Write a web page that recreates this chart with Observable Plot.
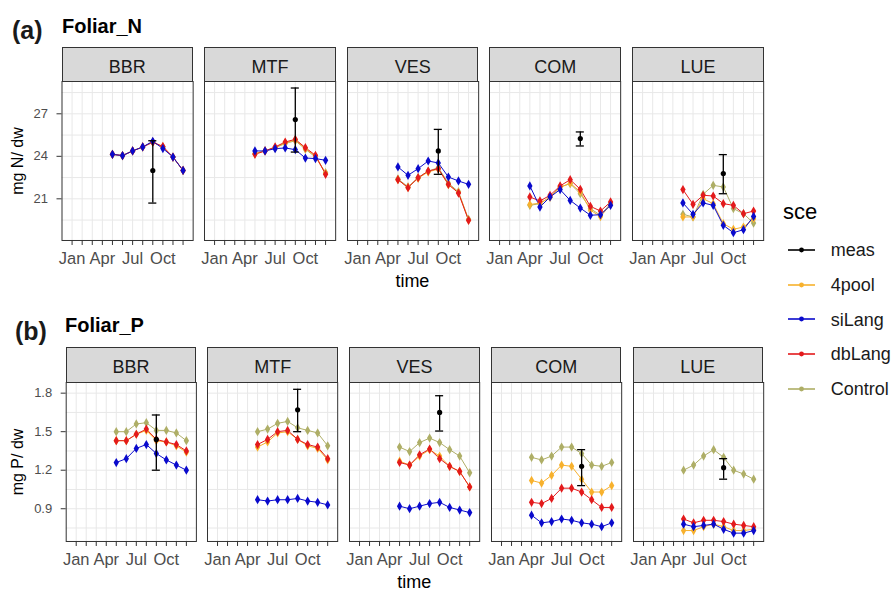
<!DOCTYPE html>
<html><head><meta charset="utf-8">
<script src="https://cdn.jsdelivr.net/npm/d3@7"></script>
<script src="https://cdn.jsdelivr.net/npm/@observablehq/plot@0.6"></script>
<style>
body{margin:0;background:#fff;font-family:"Liberation Sans",Arial,sans-serif;}
#root{position:relative;width:896px;height:593px;overflow:hidden;background:#fff;}
#root svg{position:absolute;}
.strip{position:absolute;background:#d9d9d9;border:1px solid #333;box-sizing:border-box;text-align:center;color:#1a1a1a;font-size:18px;line-height:1;}
.txt{position:absolute;white-space:nowrap;line-height:1;color:#000;}
</style></head>
<body><div id="root"></div>
<script>
// ---------- data ----------
const sites = ["BBR", "MTF", "VES", "COM", "LUE"];
const scenarios = ["meas", "4pool", "siLang", "dbLang", "Control"];
const scenColors = ["#000000", "#F7B12D", "#0A0ACC", "#E31A1C", "#AEAE66"];
const drawOrder = ["Control", "4pool", "dbLang", "siLang"];
const monthTicks = [0,1,2,3,4,5,6,7,8,9,10,11];
const monthTickLabels = ["Jan","","","Apr","","","Jul","","","Oct","",""];
const mayDec = [4,5,6,7,8,9,10,11];
const aprDec = [3,4,5,6,7,8,9,10,11];
const siteMonths = [mayDec, mayDec, mayDec, aprDec, mayDec];
const measMonth = 8;

// Foliar N (mg N / dw)
const N_4pool = [
  [24.14,24.05,24.38,24.66,25.0,24.65,23.95,23.0],
  [24.2,24.38,24.62,24.95,25.15,24.55,24.0,22.8],
  [22.35,21.8,22.45,22.9,23.1,22.0,21.45,19.5],
  [20.6,20.7,21.1,21.8,22.1,21.5,20.2,19.75,20.6],
  [19.72,19.72,21.01,20.66,19.25,18.85,19.01,19.6]];
const N_siLang = [
  [24.14,24.05,24.38,24.66,25.06,24.55,23.95,23.0],
  [24.38,24.38,24.54,24.59,24.47,23.88,23.84,23.72],
  [23.25,22.66,23.13,23.67,23.53,22.54,22.26,22.02],
  [21.91,20.42,21.13,21.65,20.89,20.35,19.84,19.88,20.54],
  [20.71,19.91,20.71,20.54,19.13,18.61,18.82,19.76]];
const N_dbLang = [
  [24.14,24.05,24.38,24.66,25.0,24.7,23.95,23.0],
  [24.14,24.38,24.66,25.01,25.2,24.61,24.07,22.73],
  [22.35,21.79,22.49,22.96,23.13,22.02,21.41,19.48],
  [21.13,20.85,21.25,21.91,22.35,21.67,20.47,20.14,20.78],
  [21.65,20.61,21.25,21.2,20.66,20.54,19.95,20.14]];
const N_Control = [
  [24.14,24.05,24.38,24.66,25.0,24.65,23.95,23.0],
  [24.2,24.38,24.6,24.9,25.1,24.5,23.95,22.85],
  [22.4,21.85,22.5,22.95,23.2,22.1,21.5,19.55],
  [20.54,20.66,21.13,21.84,22.07,21.36,20.31,19.84,20.66],
  [19.91,19.72,21.32,21.95,21.84,20.31,19.95,19.29]];
const N_meas = [23.0, 26.59, 24.38, 25.25, 22.78];
const N_measLo = [20.7, 24.3, 22.73, 24.73, 21.36];
const N_measHi = [25.1, 28.82, 25.9, 25.72, 24.12];

// Foliar P (mg P / dw)
const P_4pool = [
  [1.43,1.43,1.48,1.51,1.43,1.42,1.39,1.34],
  [1.38,1.42,1.49,1.50,1.44,1.39,1.37,1.28],
  [1.27,1.24,1.31,1.36,1.31,1.23,1.19,1.07],
  [1.12,1.10,1.16,1.24,1.23,1.13,1.03,1.03,1.08],
  [0.73,0.73,0.76,0.78,0.76,0.73,0.73,0.74]];
const P_siLang = [
  [1.26,1.29,1.37,1.40,1.33,1.28,1.24,1.20],
  [0.97,0.96,0.97,0.97,0.98,0.96,0.95,0.93],
  [0.92,0.90,0.92,0.94,0.95,0.91,0.89,0.87],
  [0.85,0.79,0.80,0.82,0.81,0.79,0.78,0.76,0.79],
  [0.78,0.76,0.77,0.78,0.74,0.71,0.71,0.73]];
const P_dbLang = [
  [1.43,1.43,1.48,1.52,1.44,1.42,1.40,1.35],
  [1.40,1.44,1.50,1.51,1.44,1.40,1.38,1.29],
  [1.26,1.24,1.32,1.365,1.29,1.23,1.19,1.07],
  [0.95,0.94,0.98,1.06,1.06,1.03,0.97,0.91,0.91],
  [0.82,0.79,0.81,0.81,0.80,0.78,0.77,0.76]];
const P_Control = [
  [1.50,1.50,1.56,1.57,1.51,1.51,1.49,1.43],
  [1.50,1.52,1.565,1.58,1.53,1.51,1.49,1.39],
  [1.38,1.345,1.415,1.45,1.415,1.36,1.31,1.18],
  [1.30,1.28,1.31,1.38,1.38,1.33,1.24,1.23,1.26],
  [1.20,1.24,1.31,1.36,1.30,1.20,1.17,1.13]];
const P_meas = [1.44, 1.67, 1.65, 1.23, 1.22];
const P_measLo = [1.20, 1.50, 1.505, 1.08, 1.13];
const P_measHi = [1.63, 1.83, 1.78, 1.36, 1.29];

const N_majorTicks = [21, 24, 27];
const N_gridTicks = [19.5, 21, 22.5, 24, 25.5, 27, 28.5];
const P_majorTicks = [0.9, 1.2, 1.5, 1.8];
const P_gridTicks = [0.75, 0.9, 1.05, 1.2, 1.35, 1.5, 1.65, 1.8];

// ---------- layout ----------
const root = document.getElementById("root");
const FONT = "'Liberation Sans', Arial, sans-serif";
const panelH = 159;
const rows = [
  {tag: "(a)", title: "Foliar_N", ytitle: "mg N/ dw", series: {"4pool": N_4pool, siLang: N_siLang, dbLang: N_dbLang, Control: N_Control},
   meas: N_meas, lo: N_measLo, hi: N_measHi, domain: [18.06, 29.28], major: N_majorTicks, grid: N_gridTicks, fmt: d3.format("d"),
   left0: 61.5, right: 763.3, gap: 11.5, stripTop: 47, panelTop: 81, tagTop: 17.8, tagLeft: 12, titleTop: 16.1, titleLeft: 62},
  {tag: "(b)", title: "Foliar_P", ytitle: "mg P/ dw", series: {"4pool": P_4pool, siLang: P_siLang, dbLang: P_dbLang, Control: P_Control},
   meas: P_meas, lo: P_measLo, hi: P_measHi, domain: [0.645, 1.883], major: P_majorTicks, grid: P_gridTicks, fmt: d3.format(".1f"),
   left0: 65.7, right: 762.7, gap: 11.5, stripTop: 347, panelTop: 382, tagTop: 318.8, tagLeft: 15, titleTop: 314.8, titleLeft: 65}
];

function addText(str, left, top, css) {
  const d = document.createElement("div");
  d.className = "txt";
  d.textContent = str;
  d.style.left = left + "px";
  d.style.top = top + "px";
  Object.assign(d.style, css || {});
  root.appendChild(d);
  return d;
}

rows.forEach(row => {
  const pw = (row.right - row.left0 - 4 * row.gap) / 5;
  sites.forEach((site, i) => {
    const months = siteMonths[i];
    const data = [];
    drawOrder.forEach(sc => {
      row.series[sc][i].forEach((v, k) => data.push({m: months[k], v, sce: sc}));
    });
    const meas = [{m: measMonth, v: row.meas[i], lo: row.lo[i], hi: row.hi[i], sce: "meas"}];
    const first = i === 0;
    const mL = first ? row.left0 : 1, mR = 1, mT = 1, mB = 40;
    const pl = row.left0 + i * (pw + row.gap);
    const svg = Plot.plot({
      width: mL + pw + mR, height: mT + panelH + mB,
      marginLeft: mL, marginRight: mR, marginTop: mT, marginBottom: mB,
      x: {domain: [-1, 12], axis: null},
      y: {domain: row.domain, axis: null},
      color: {domain: scenarios, range: scenColors},
      style: {background: "transparent", fontFamily: FONT, overflow: "visible"},
      marks: [
        Plot.gridX(monthTicks, {stroke: "#e8e8e8", strokeOpacity: 1, strokeWidth: 1}),
        Plot.gridY(row.grid, {stroke: "#e8e8e8", strokeOpacity: 1, strokeWidth: 1}),
        Plot.axisX(monthTicks, {tickFormat: (d, j) => monthTickLabels[d], tickSize: 5, tickPadding: 7, fontSize: 16.5,
          stroke: "#333", fill: "#4d4d4d", label: null}),
        first ? Plot.axisY(row.major, {tickFormat: row.fmt, tickSize: 5, tickPadding: 9, fontSize: 13,
          stroke: "#333", fill: "#4d4d4d", label: null}) : null,
        Plot.line(data, {x: "m", y: "v", z: "sce", stroke: "sce", strokeWidth: 1}),
        Plot.dot(data, {x: "m", y: "v", fill: "sce", symbol: "diamond", r: 2.8}),
        Plot.ruleX(meas, {x: "m", y1: "lo", y2: "hi", stroke: "#000", strokeWidth: 1.3}),
        Plot.ruleY(meas, {y: "lo", x1: d => d.m - 0.4, x2: d => d.m + 0.4, stroke: "#000", strokeWidth: 1.3}),
        Plot.ruleY(meas, {y: "hi", x1: d => d.m - 0.4, x2: d => d.m + 0.4, stroke: "#000", strokeWidth: 1.3}),
        Plot.dot(meas, {x: "m", y: "v", fill: "#000", r: 2.6}),
        Plot.frame({stroke: "#333", strokeWidth: 1})
      ]
    });
    svg.style.left = (pl - mL) + "px";
    svg.style.top = (row.panelTop - mT) + "px";
    root.appendChild(svg);
    const strip = document.createElement("div");
    strip.className = "strip";
    strip.style.left = pl + "px";
    strip.style.top = row.stripTop + "px";
    strip.style.width = (pw + 0.5) + "px";
    strip.style.height = (row.panelTop - row.stripTop + 0.5) + "px";
    strip.style.paddingTop = "10px";
    strip.textContent = site;
    root.appendChild(strip);
  });
  // titles
  addText(row.tag, row.tagLeft, row.tagTop, {fontSize: "25px", fontWeight: "bold", color: "#1a1a1a"});
  addText(row.title, row.titleLeft, row.titleTop, {fontSize: "20px", fontWeight: "bold"});
  // x axis title
  const cx = (row.left0 + row.right) / 2;
  addText("time", cx - 40, row.panelTop + panelH + 32, {fontSize: "18px", width: "80px", textAlign: "center"});
  // y axis title
  const cy = row.panelTop + panelH / 2;
  addText(row.ytitle, 18 - 50, cy - 8, {fontSize: "16px", width: "100px", textAlign: "center", transform: "rotate(-90deg)", transformOrigin: "50% 50%"});
});

// legend
addText("sce", 783, 220 - 0.8465 * 22, {fontSize: "22px"});
const legBase = [256.7, 291.3, 325.9, 360.5, 395.1];
scenarios.forEach((sc, k) => {
  const ly = legBase[k] - 6.5;
  const s = d3.create("svg").attr("width", 30).attr("height", 10)
    .style("left", "787px").style("top", (ly - 5) + "px");
  s.append("line").attr("x1", 1).attr("x2", 28).attr("y1", 5).attr("y2", 5)
    .attr("stroke", scenColors[k]).attr("stroke-width", 1.6);
  s.append("circle").attr("cx", 14.5).attr("cy", 5).attr("r", 2.4).attr("fill", scenColors[k]);
  root.appendChild(s.node());
  addText(sc, 830.7, legBase[k] - 0.8465 * 18, {fontSize: "18px", color: "#1a1a1a"});
});
</script></body></html>
